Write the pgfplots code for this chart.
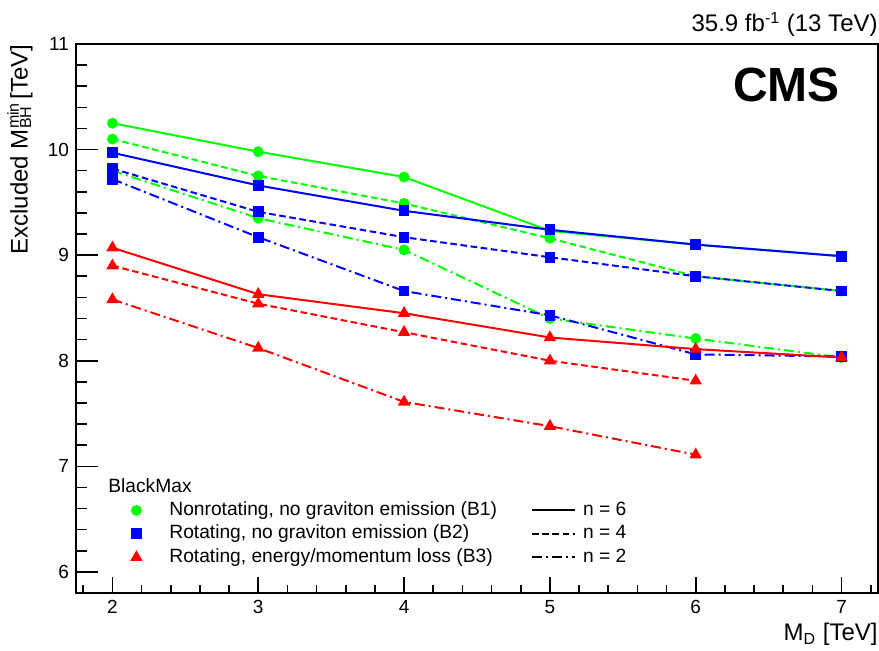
\documentclass[border=0pt]{standalone}
\usepackage{fontspec}
\setmainfont{Liberation Sans}
\usepackage{pgfplots}
\pgfplotsset{compat=1.18}
\definecolor{rgreen}{RGB}{0,255,0}
\definecolor{rblue}{RGB}{0,0,255}
\definecolor{rred}{RGB}{255,0,0}
\tikzset{
  ndash/.style={dash pattern=on 3.3pt off 1.8pt},
  ndashdot/.style={dash pattern=on 5pt off 2pt on 1pt off 2pt},
}
\pgfplotsset{
  marklegend/.style={legend image code/.code={\path[draw=none,fill=none] (0pt,0pt) -- (27pt,0pt); \draw[##1] plot coordinates {(14pt,0pt)};}},
  linelegend/.style={legend image code/.code={\draw[##1] (0pt,0pt) -- (21.5pt,0pt);}},
}
\begin{document}
\begin{tikzpicture}
\begin{axis}[
  name=main,
  scale only axis, width=401pt, height=274.5pt,
  xmin=1.75, xmax=7.25, ymin=5.8, ymax=11,
  xtick={2,...,7}, ytick={6,...,11},
  minor xtick={1.8,2,...,7.2}, minor ytick={5.8,6,...,11},
  tick align=inside, tick pos=left,
  major tick length=11pt, minor tick length=5.5pt,
  xtick style={/pgfplots/major tick length=8pt,/pgfplots/minor tick length=4pt},
  every tick/.style={black, line width=0.8pt},
  axis line style={line width=1pt},
  clip=false,
  tick label style={font=\fontsize{9.5}{11}\selectfont},
  /pgf/number format/assume math mode=true,
  label style={font=\fontsize{12}{14}\selectfont},
  xlabel={M\textsubscript{D} [TeV]},
  ylabel={Excluded M\rlap{\textsuperscript{min}}\textsubscript{BH} [TeV]},
  xlabel style={at={(rel axis cs:1,0)}, anchor=north east, yshift=-15pt, inner sep=0pt},
  ylabel style={at={([xshift=-21.5pt]rel axis cs:0,1)}, anchor=south east, inner sep=0pt},
  every axis plot/.append style={line width=1pt, mark options={solid}},
  legend columns=2,
  legend cell align=left,
  legend style={draw=none, fill=none, at={(rel axis cs:0.0399,0.1694)}, anchor=north west,
    inner sep=0pt, font=\fontsize{9.6}{11}\selectfont,
    nodes={inner sep=0.5pt, text height=7pt, text depth=2pt},
    column sep=3pt, row sep=1.75pt,
    /tikz/every even column/.append style={column sep=16.5pt}},
]
% B1 nonrotating
\addplot[rgreen, mark=*, mark size=2.2pt, forget plot] coordinates {(2,10.25) (3,9.98) (4,9.74) (5,9.23) (6,9.10) (7,8.99)};
\addplot[rgreen, ndash, mark=*, mark size=2.2pt, forget plot] coordinates {(2,10.10) (3,9.75) (4,9.49) (5,9.16) (6,8.80) (7,8.66)};
\addplot[rgreen, ndashdot, mark=*, mark size=2.2pt, forget plot] coordinates {(2,9.80) (3,9.35) (4,9.05) (5,8.40) (6,8.21) (7,8.03)};
% B2 rotating
\addplot[rblue, mark=square*, mark size=2.2pt, forget plot] coordinates {(2,9.97) (3,9.66) (4,9.42) (5,9.24) (6,9.10) (7,8.99)};
\addplot[rblue, ndash, mark=square*, mark size=2.2pt, forget plot] coordinates {(2,9.82) (3,9.41) (4,9.17) (5,8.98) (6,8.80) (7,8.66)};
\addplot[rblue, ndashdot, mark=square*, mark size=2.2pt, forget plot] coordinates {(2,9.72) (3,9.17) (4,8.66) (5,8.43) (6,8.06) (7,8.04)};
% B3 energy/momentum loss
\addplot[rred, mark=triangle*, mark size=2.6pt, forget plot] coordinates {(2,9.07) (3,8.63) (4,8.45) (5,8.22) (6,8.11) (7,8.03)};
\addplot[rred, ndash, mark=triangle*, mark size=2.6pt, forget plot] coordinates {(2,8.90) (3,8.54) (4,8.27) (5,8.00) (6,7.81)};
\addplot[rred, ndashdot, mark=triangle*, mark size=2.6pt, forget plot] coordinates {(2,8.58) (3,8.12) (4,7.61) (5,7.38) (6,7.11)};

\addlegendimage{marklegend, rgreen, mark=*, mark size=2.2pt}
\addlegendentry{Nonrotating, no graviton emission (B1)}
\addlegendimage{linelegend, black, line width=1pt}
\addlegendentry{n = 6}
\addlegendimage{marklegend, rblue, mark=square*, mark size=2.2pt}
\addlegendentry{Rotating, no graviton emission (B2)}
\addlegendimage{linelegend, black, line width=1pt, ndash}
\addlegendentry{n = 4}
\addlegendimage{marklegend, rred, mark=triangle*, mark size=2.6pt}
\addlegendentry{Rotating, energy/momentum loss (B3)}
\addlegendimage{linelegend, black, line width=1pt, ndashdot}
\addlegendentry{n = 2}

\node[anchor=west, inner sep=0pt, font=\fontsize{9.6}{11}\selectfont] at (rel axis cs:0.0399,0.195) {BlackMax};
\node[anchor=east, inner sep=0pt, font=\fontsize{24}{28}\selectfont\bfseries] at (rel axis cs:0.953,0.925) {CMS};
\node[anchor=base east, inner sep=0pt, font=\fontsize{12}{14}\selectfont] at ([yshift=6pt]rel axis cs:1,1) {35.9 fb\textsuperscript{-1} (13 TeV)};
\end{axis}
\pgfresetboundingbox
\path ([xshift=-38pt,yshift=-28.5pt]main.south west) rectangle ([xshift=0.5pt,yshift=22pt]main.north east);
\end{tikzpicture}
\end{document}
